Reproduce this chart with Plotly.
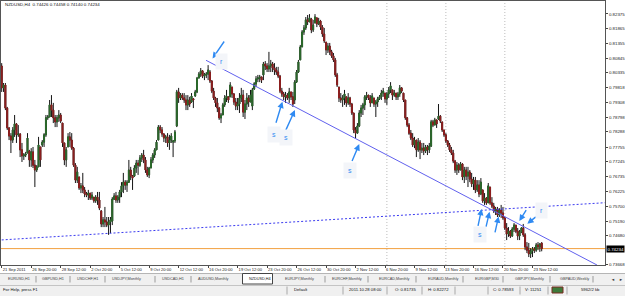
import plotly.graph_objects as go

# ---------------- data (prices in units of 0.0001) ----------------
PRICE_UNIT = 1e-4

open_pts = [
    8057,7981,7991,7911,7842,7814,7800,7835,7856,7818, 7821,7766,7745,7748,7755,7762,7731,7759,7713,7696,
    7707,7776,7783,7793,7818,7877,7880,7922,7904,7877, 7863,7877,7887,7859,7790,7731,7776,7811,7800,7772,
    7713,7661,7672,7634,7641,7627,7613,7609,7616,7599, 7602,7589,7602,7592,7554,7509,7523,7516,7505,7516,
    7519,7595,7606,7592,7602,7620,7641,7654,7644,7654, 7696,7675,7675,7703,7720,7713,7738,7748,7731,7696,
    7679,7703,7731,7748,7766,7800,7845,7835,7821,7807, 7811,7790,7800,7793,7797,7849,7967,7946,7956,7946,
    7939,7922,7939,7932,7943,7953,7967,8015,8029,8040, 8022,8026,8029,8036,8005,7970,7946,7929,7911,7877,
    7887,7922,7946,7950,7950,7984,7960,7932,7918,7925, 7946,7956,7897,7925,7946,7932,7918,7977,7995,8012,
    8015,8019,8026,8064,8057,8047,8057,8064,8050,8043, 8036,8022,7970,7960,7950,7956,7946,7967,7950,7939,
    8001,8036,8078,8123,8175,8189,8217,8210,8220,8182, 8206,8224,8203,8213,8192,8168,8140,8113,8126,8106,
    8092,8078,8026,7984,7946,7939,7946,7950,7929,7946, 7925,7894,7835,7824,7849,7894,7911,7922,7950,7956,
    7946,7929,7946,7925,7932,7943,7950,7963,7963,7943, 7960,7974,7974,7956,7963,7950,7960,7981,7963,7939,
    7877,7852,7824,7807,7783,7800,7766,7793,7766,7772, 7762,7776,7766,7779,7863,7852,7870,7873,7883,7863,
    7835,7818,7797,7783,7766,7755,7727,7696,7713,7696, 7717,7672,7696,7675,7689,7665,7648,7661,7627,7644,
    7613,7627,7589,7599,7582,7637,7582,7571,7554,7561, 7540,7557,7547,7530,7495,7474,7484,7467,7491,7505,
    7484,7467,7481,7495,7471,7429,7418,7405,7415,7422, 7418,7436,7429,7442.6,
]
high_pts = [
    8067,7998,7998,7915,7845,7824,7845,7887,7859,7852, 7824,7790,7755,7759,7824,7766,7772,7776,7731,7713,
    7811,7776,7800,7824,7887,7887,7939,7956,7929,7887, 7887,7904,7894,7859,7790,7776,7824,7828,7824,7776,
    7720,7707,7672,7651,7686,7637,7620,7627,7616,7620, 7602,7609,7620,7620,7557,7533,7568,7533,7533,7533,
    7602,7616,7620,7609,7627,7654,7686,7661,7661,7731, 7707,7679,7713,7731,7731,7748,7755,7766,7741,7707,
    7707,7741,7755,7772,7800,7852,7852,7845,7824,7818, 7824,7818,7824,7800,7835,7974,7981,7963,7963,7963,
    7956,7956,7950,7963,7946,7974,8019,8036,8050,8043, 8033,8036,8060,8043,8008,7981,7950,7946,7915,7894,
    7929,7956,7974,7950,8001,7984,7963,7946,7946,7963, 7981,7974,7939,7963,7956,7974,7981,8001,8022,8026,
    8026,8019,8071,8074,8067,8106,8078,8071,8067,8054, 8054,8026,7981,7967,7967,7963,7981,7967,7967,8008,
    8043,8078,8130,8182,8199,8227,8234,8237,8224,8217, 8237,8224,8224,8217,8199,8189,8140,8137,8137,8113,
    8102,8085,8033,7984,7963,7956,7974,7950,7963,7950, 7929,7894,7845,7859,7904,7922,7929,7956,7967,7956,
    7956,7963,7946,7939,7950,7956,7974,7981,7963,7967, 7984,8001,7974,7974,7963,7967,7991,7984,7963,7939,
    7880,7859,7835,7824,7811,7800,7807,7800,7790,7790, 7783,7783,7790,7870,7870,7877,7870,7925,7887,7863,
    7835,7824,7800,7790,7776,7766,7731,7724,7720,7724, 7720,7707,7707,7707,7696,7686,7672,7672,7661,7661,
    7668,7627,7616,7602,7651,7637,7602,7582,7568,7568, 7564,7575,7568,7533,7512,7498,7488,7498,7512,7505,
    7495,7488,7498,7509,7477,7446,7443,7425,7429,7429, 7443,7446,7443,7445.8,
]
low_pts = [
    7967,7967,7904,7835,7800,7755,7790,7811,7790,7811, 7741,7724,7731,7741,7755,7707,7707,7703,7637,7689,
    7707,7707,7776,7776,7811,7870,7880,7880,7859,7845, 7845,7863,7859,7776,7713,7707,7776,7776,7766,7707,
    7651,7651,7627,7616,7616,7602,7602,7592,7592,7592, 7582,7582,7575,7557,7498,7498,7498,7498,7471,7477,
    7505,7592,7582,7582,7582,7602,7616,7627,7620,7651, 7661,7627,7672,7686,7679,7707,7724,7720,7686,7672,
    7668,7703,7720,7738,7766,7800,7824,7811,7793,7790, 7776,7766,7790,7741,7790,7845,7929,7939,7939,7929,
    7904,7904,7915,7929,7911,7950,7963,8015,8019,8015, 8008,8015,8008,7998,7963,7939,7915,7897,7870,7859,
    7887,7915,7932,7929,7950,7946,7922,7904,7904,7894, 7932,7880,7873,7904,7915,7932,7904,7974,7984,8001,
    8001,7998,8008,8043,8036,8036,8036,8036,8026,8026, 8015,7963,7950,7939,7929,7939,7929,7939,7915,7925,
    7998,8033,8078,8123,8165,8182,8199,8210,8171,8175, 8206,8192,8199,8182,8158,8137,8095,8102,8095,8085,
    8071,8019,7984,7932,7929,7915,7922,7915,7922,7915, 7887,7824,7807,7824,7845,7880,7887,7904,7939,7939,
    7915,7929,7915,7880,7915,7939,7939,7950,7929,7922, 7946,7963,7939,7950,7939,7939,7950,7963,7932,7870,
    7845,7818,7800,7776,7772,7741,7759,7734,7755,7748, 7755,7748,7755,7776,7845,7852,7842,7870,7859,7828,
    7811,7790,7776,7759,7748,7720,7686,7679,7686,7696, 7661,7651,7661,7637,7654,7637,7627,7616,7620,7602,
    7609,7582,7575,7575,7582,7575,7564,7547,7540,7533, 7533,7530,7523,7488,7453,7464,7460,7464,7481,7477,
    7453,7453,7477,7464,7418,7408,7394,7391,7394,7408, 7412,7418,7412,7414.0,
]
close_pts = [
    7981,7991,7911,7842,7814,7800,7835,7856,7818,7821, 7766,7745,7748,7752,7807,7731,7759,7713,7696,7707,
    7783,7731,7793,7818,7877,7880,7922,7904,7877,7863, 7877,7887,7866,7790,7731,7766,7811,7800,7772,7713,
    7661,7689,7634,7641,7627,7613,7609,7616,7599,7609, 7589,7602,7592,7564,7509,7523,7516,7505,7516,7523,
    7595,7606,7592,7602,7620,7641,7654,7644,7654,7696, 7675,7668,7703,7720,7713,7738,7748,7731,7696,7679,
    7703,7731,7748,7766,7793,7845,7835,7821,7807,7811, 7790,7800,7814,7797,7828,7967,7946,7956,7946,7939,
    7922,7939,7925,7953,7939,7967,8015,8029,8040,8022, 8026,8029,8043,8005,7970,7946,7929,7911,7877,7887,
    7922,7946,7953,7939,7991,7960,7932,7918,7925,7946, 7956,7897,7925,7946,7932,7956,7974,7995,8012,8015,
    8019,8008,8064,8057,8047,8057,8064,8050,8043,8036, 8022,7970,7960,7950,7956,7946,7967,7950,7925,8001,
    8036,8071,8123,8175,8189,8217,8210,8224,8182,8199, 8227,8203,8213,8192,8168,8144,8113,8126,8106,8092,
    8078,8026,7991,7946,7939,7946,7960,7929,7946,7925, 7894,7835,7824,7849,7894,7911,7922,7950,7956,7946,
    7929,7953,7925,7932,7943,7950,7963,7970,7943,7960, 7974,7988,7956,7963,7950,7960,7981,7970,7939,7877,
    7852,7824,7807,7783,7800,7766,7793,7766,7772,7762, 7776,7766,7779,7863,7852,7870,7856,7883,7866,7835,
    7818,7797,7783,7766,7755,7727,7696,7713,7696,7717, 7672,7696,7675,7689,7665,7648,7661,7627,7644,7613,
    7654,7589,7599,7582,7641,7582,7571,7554,7561,7540, 7557,7547,7530,7495,7474,7484,7467,7491,7505,7484,
    7467,7481,7495,7471,7429,7418,7405,7415,7422,7418, 7436,7429,7439,7423.4,
]

BARS_PER_LABEL = 16
time_labels = ["21 Sep 2011", "26 Sep 20:00", "28 Sep 12:00", "2 Oct 20:00", "5 Oct 12:00",
               "9 Oct 20:00", "12 Oct 12:00", "16 Oct 20:00", "19 Oct 12:00", "23 Oct 20:00",
               "26 Oct 12:00", "30 Oct 20:00", "2 Nov 12:00", "6 Nov 20:00", "9 Nov 12:00",
               "13 Nov 20:00", "16 Nov 12:00", "20 Nov 20:00", "23 Nov 12:00"]
price_ticks = [0.82375, 0.81865, 0.81355, 0.80845, 0.80335, 0.79818, 0.79308, 0.78798, 0.78288,
               0.77755, 0.77245, 0.76735, 0.76225, 0.75700, 0.75190, 0.74680, 0.73668]
week_separators = [209, 241, 273]          # bar index of the dotted period separators

# hand-drawn objects (bar index, price)
resistance_line = dict(x=[110.85, 323.0], y=[0.80768, 0.73665])
support_dotted = dict(x=[0.0, 327.3], y=[0.74535, 0.75826])
arrows = [  # head x, head y, tail offset dx, dy (px)
    (114.4, 0.8083, 13, -19), (152.3, 0.7933, -7, 23), (159.1, 0.7904, -10, 22),
    (194.0, 0.7786, -8, 19), (260.4, 0.7561, -4, 19), (264.7, 0.7551, -4, 17),
    (269.6, 0.7535, -4, 18), (280.9, 0.7519, 8, -13), (285.2, 0.7510, 10, -8),
]
marks = [("r", 119.3, 0.8074), ("s", 147.5, 0.7821), ("s", 154.0, 0.7809),
         ("s", 189.0, 0.7696), ("s", 259.5, 0.7471), ("r", 293.0, 0.7557)]

title_text = "NZDUSD,H4  0.74426 0.74458 0.74140 0.74234"
tabs = ["EURUSD,H1", "GBPUSD,H1", "USDCHF,H1", "USDJPY,Monthly", "USDCAD,H1", "AUDUSD,Monthly",
        "NZDUSD,H4", "EURJPY,Monthly", "EURCHF,Monthly", "EURCAD,Monthly", "EURAUD,Monthly",
        "EURGBP,M30", "GBPJPY,Monthly", "GBPAUD,Weekly"]
ACTIVE_TAB = 6
status_items = ["For Help, press F1", "Default", "2011.10.28 08:00", "O: 0.81735", "H: 0.82272",
                "C: 0.78593", "V: 11251", "5962/2 kb"]

# ---------------- layout geometry ----------------
W, H = 625, 296
ML, MR, MT, MB = 1, 20, 1, 31
PW, PH = W - ML - MR, H - MT - MB


def pxx(px):
    return (px - ML) / PW


def pxy(py):
    return (MT + PH - py) / PH


o = [v * PRICE_UNIT for v in open_pts]
h = [v * PRICE_UNIT for v in high_pts]
l = [v * PRICE_UNIT for v in low_pts]
c = [v * PRICE_UNIT for v in close_pts]
n = len(c)
idx = list(range(n))
body_hi = [max(a, b) for a, b in zip(o, c)]
body_lo = [min(a, b) for a, b in zip(o, c)]
last_price = c[-1]

FONT = "Liberation Sans, Arial, sans-serif"
BLUE = "#2f8af2"

fig = go.Figure()
# wicks (black)
fig.add_trace(go.Candlestick(
    x=idx, open=o, high=h, low=l, close=c, whiskerwidth=0,
    increasing=dict(line=dict(color="#141414", width=1), fillcolor="#141414"),
    decreasing=dict(line=dict(color="#141414", width=1), fillcolor="#141414"),
    hoverinfo="skip", showlegend=False))
# coloured bodies
fig.add_trace(go.Candlestick(
    x=idx, open=o, high=body_hi, low=body_lo, close=c, whiskerwidth=0,
    increasing=dict(line=dict(color="#2c6a2c", width=1), fillcolor="#2c6a2c"),
    decreasing=dict(line=dict(color="#8e1f1f", width=1), fillcolor="#8e1f1f"),
    hoverinfo="skip", showlegend=False))
# trend lines
fig.add_trace(go.Scatter(x=resistance_line["x"], y=resistance_line["y"], mode="lines",
                         line=dict(color="#6161ee", width=1), hoverinfo="skip", showlegend=False))
fig.add_trace(go.Scatter(x=support_dotted["x"], y=support_dotted["y"], mode="lines",
                         line=dict(color="#3b3bf0", width=1, dash="2px,2px"),
                         hoverinfo="skip", showlegend=False))

shapes = []
for xs in week_separators:
    shapes.append(dict(type="line", xref="x", yref="paper", x0=xs, x1=xs, y0=0, y1=1,
                       line=dict(color="#bcbcbc", width=1, dash="1px,2px"), layer="below"))
shapes.append(dict(type="line", xref="paper", yref="y", x0=0, x1=1, y0=last_price, y1=last_price,
                   line=dict(color="#f2a13f", width=1), layer="below"))
# tab strip
shapes.append(dict(type="rect", xref="paper", yref="paper", x0=pxx(0), x1=pxx(W), y0=pxy(285),
                   y1=pxy(273.5), fillcolor="#f0f0f0", line=dict(width=0)))
shapes.append(dict(type="line", xref="paper", yref="paper", x0=pxx(0), x1=pxx(W), y0=pxy(273.5),
                   y1=pxy(273.5), line=dict(color="#b5b5b5", width=1)))
shapes.append(dict(type="rect", xref="paper", yref="paper", x0=pxx(242.5), x1=pxx(272.5),
                   y0=pxy(284), y1=pxy(273.5), fillcolor="#ffffff", line=dict(color="#444", width=1)))
for sx in [36, 70, 105, 155, 191, 325, 368, 416, 463, 503, 550, 593]:
    shapes.append(dict(type="line", xref="paper", yref="paper", x0=pxx(sx), x1=pxx(sx),
                       y0=pxy(282.5), y1=pxy(276), line=dict(color="#9a9a9a", width=1)))
# status bar
shapes.append(dict(type="rect", xref="paper", yref="paper", x0=pxx(0), x1=pxx(W), y0=pxy(H),
                   y1=pxy(285), fillcolor="#f0f0f0", line=dict(width=0)))
shapes.append(dict(type="line", xref="paper", yref="paper", x0=pxx(0), x1=pxx(W), y0=pxy(285.5),
                   y1=pxy(285.5), line=dict(color="#c4c4c4", width=1)))
for sx in [287, 343, 387, 422, 455, 488, 520, 548, 567]:
    shapes.append(dict(type="line", xref="paper", yref="paper", x0=pxx(sx), x1=pxx(sx),
                       y0=pxy(294.5), y1=pxy(286.5), line=dict(color="#a8a8a8", width=1)))
shapes.append(dict(type="rect", xref="paper", yref="paper", x0=pxx(552), x1=pxx(563),
                   y0=pxy(293), y1=pxy(287), fillcolor="#3d7a3a", line=dict(color="#7a2a20", width=1)))

ann = []
ann.append(dict(text=title_text, xref="paper", yref="paper", x=pxx(3), y=pxy(5), xanchor="left",
                yanchor="middle", showarrow=False, font=dict(size=4.4, color="#111", family=FONT)))
ann.append(dict(text=f"{last_price:.5f}", xref="paper", yref="y", x=1, y=last_price, xanchor="left",
                yanchor="middle", xshift=1, showarrow=False, bgcolor="#000000", borderpad=0.5,
                font=dict(size=4.4, color="#ffffff", family=FONT)))
for (ax_, ay_, dx, dy) in arrows:
    ann.append(dict(text=" ", x=ax_, y=ay_, xref="x", yref="y", ax=dx, ay=dy, showarrow=True,
                    arrowhead=2, arrowsize=0.9, arrowwidth=1.4, arrowcolor=BLUE,
                    font=dict(size=1)))
for (t, mx, my) in marks:
    ann.append(dict(text=t, x=mx, y=my, xref="x", yref="y", showarrow=False, xanchor="center",
                    yanchor="middle", bgcolor="#f3f5f9", borderpad=4,
                    font=dict(size=7, color=BLUE, family=FONT)))
tab_x = [6, 40, 75, 110, 160, 196, 247, 283, 330, 377, 426, 473, 513, 558]
for t, tx in zip(tabs, tab_x):
    ann.append(dict(text=t, xref="paper", yref="paper", x=pxx(tx), y=pxy(279.3), xanchor="left",
                    yanchor="middle", showarrow=False,
                    font=dict(size=3.8, color="#111" if t == tabs[ACTIVE_TAB] else "#444", family=FONT)))
for sym, sx in [("\u25c4", 609), ("\u25ba", 617)]:
    ann.append(dict(text=sym, xref="paper", yref="paper", x=pxx(sx), y=pxy(279.3), xanchor="left",
                    yanchor="middle", showarrow=False, font=dict(size=4, color="#333", family=FONT)))
status_x = [1, 292, 347, 393, 426, 491, 523, 579]
for t, sx in zip(status_items, status_x):
    ann.append(dict(text=t, xref="paper", yref="paper", x=pxx(sx), y=pxy(289.8), xanchor="left",
                    yanchor="middle", showarrow=False, font=dict(size=4.2, color="#111", family=FONT)))

tick_idx = [k * BARS_PER_LABEL for k in range(len(time_labels))]

fig.update_layout(
    width=W, height=H, margin=dict(l=ML, r=MR, t=MT, b=MB, autoexpand=False),
    paper_bgcolor="#ffffff", plot_bgcolor="#ffffff", font=dict(family=FONT),
    showlegend=False, hovermode=False, shapes=shapes, annotations=ann,
    xaxis=dict(range=[-0.38, 327.35], tickmode="array", tickvals=tick_idx, ticktext=time_labels,
               ticks="outside", ticklen=2, tickwidth=1, tickcolor="#444", tickangle=0,
               ticklabelposition="outside right", tickfont=dict(size=4.1, color="#222"),
               showgrid=False, zeroline=False, showline=True, linecolor="#555", linewidth=1,
               mirror=True, rangeslider=dict(visible=False), fixedrange=True, automargin=False),
    yaxis=dict(side="right", range=[0.73665, 0.82825], tickmode="array", tickvals=price_ticks,
               ticktext=[f"{v:.5f}" for v in price_ticks], ticks="outside", ticklen=2,
               tickcolor="#444", tickfont=dict(size=4.4, color="#222"), showgrid=False,
               zeroline=False, showline=True, linecolor="#555", linewidth=1, mirror=True,
               fixedrange=True, automargin=False),
)

fig.write_html("out.html", config={"displayModeBar": False, "staticPlot": True})
